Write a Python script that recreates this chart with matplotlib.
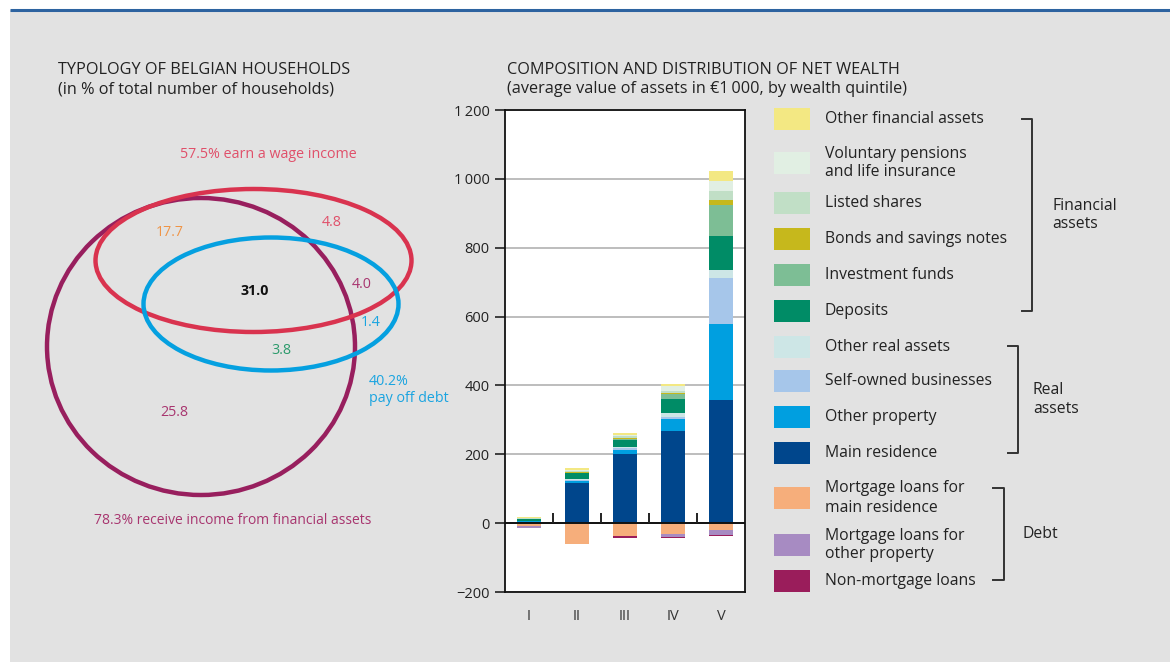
import matplotlib.pyplot as plt
from matplotlib.patches import Ellipse, Rectangle
from matplotlib.ticker import FuncFormatter

plt.rcParams['font.family'] = ['Open Sans', 'DejaVu Sans']

# wealth quintiles
quintiles = ['I', 'II', 'III', 'IV', 'V']

# assets, stacked bottom to top (EUR thousand)
main_residence = [4, 116, 200, 267, 358]
other_property = [1, 5, 13, 35, 220]
self_owned = [1, 5, 4, 7, 133]
other_real = [1, 3, 4, 11, 23]
deposits = [5, 16, 20, 41, 101]
investment_funds = [1, 2, 4, 15, 90]
bonds = [0, 1, 3, 2, 13]
listed_shares = [1, 4, 4, 5, 28]
voluntary_pensions = [1, 3, 5, 14, 27]
other_financial = [2, 4, 5, 7, 31]

# debt, stacked downwards
mortgage_main = [-8, -60, -37, -31, -19]
mortgage_other = [-6, -1, 0, -9, -14]
non_mortgage = [-1, 0, -6, -3, -4]

asset_series = [
    ('Main residence', main_residence, '#00468c'),
    ('Other property', other_property, '#009fe0'),
    ('Self-owned businesses', self_owned, '#a6c6ea'),
    ('Other real assets', other_real, '#cde6e6'),
    ('Deposits', deposits, '#008c66'),
    ('Investment funds', investment_funds, '#7dbe95'),
    ('Bonds and savings notes', bonds, '#c6b81c'),
    ('Listed shares', listed_shares, '#c1dfc6'),
    ('Voluntary pensions\nand life insurance', voluntary_pensions, '#e1efe3'),
    ('Other financial assets', other_financial, '#f3e883'),
]
debt_series = [
    ('Mortgage loans for\nmain residence', mortgage_main, '#f6ae7b'),
    ('Mortgage loans for\nother property', mortgage_other, '#a78bc2'),
    ('Non-mortgage loans', non_mortgage, '#9a1d5b'),
]

# household typology (% of households)
venn_values = ['17.7', '4.8', '31.0', '4.0', '1.4', '3.8', '25.8']
wage_label = '57.5% earn a wage income'
debt_label = '40.2%\npay off debt'
fin_label = '78.3% receive income from financial assets'

W, H = 1170, 662
fig = plt.figure(figsize=(W / 100, H / 100), dpi=100)
fig.patch.set_facecolor('white')

bg = fig.add_axes([0, 0, 1, 1])
bg.set_xlim(0, W)
bg.set_ylim(H, 0)
bg.axis('off')
bg.add_patch(Rectangle((10, 10), W - 10, H - 10, facecolor='#e2e2e2', edgecolor='none'))
bg.plot([10, W], [9.5, 9.5], color='#2d63a0', lw=2.2, solid_capstyle='butt')

title_kw = dict(fontsize=11.7, va='center', color='#222222')

# --- left panel: overlapping ellipses
bg.text(58, 70, 'TYPOLOGY OF BELGIAN HOUSEHOLDS', **title_kw)
bg.text(58, 90, '(in % of total number of households)', **title_kw)

purple, red, blue = '#981f5e', '#d9334f', '#05a0e0'
bg.add_patch(Ellipse((201, 346.5), 308, 297, fill=False, ec=purple, lw=3.2))
bg.add_patch(Ellipse((253.5, 260.5), 316, 143, fill=False, ec=red, lw=3.2))
bg.add_patch(Ellipse((271, 304), 255, 133, fill=False, ec=blue, lw=3.2))

venn_pos = [(170, 232, '#ef9446'), (332, 222, '#e0506a'), (255, 291, '#111111'),
            (362, 285, '#a8356f'), (371, 322, '#1aa4e0'), (281, 351, '#2b9a6b'),
            (174, 412, '#a8356f')]
for val, (x, y, c) in zip(venn_values, venn_pos):
    bg.text(x, y, val, fontsize=10.3, ha='center', va='center', color=c,
            fontweight='bold' if val == '31.0' else 'normal')
bg.text(268, 155, wage_label, fontsize=10.3, ha='center', va='center', color='#e0506a')
bg.text(369, 390, debt_label, fontsize=10.3, ha='left', va='center', color='#1aa4e0',
        linespacing=1.2)
bg.text(233, 521, fin_label, fontsize=10, ha='center', va='center', color='#a8356f')

# --- right panel: stacked bars
bg.text(507, 70, 'COMPOSITION AND DISTRIBUTION OF NET WEALTH', **title_kw)
bg.text(507, 89, '(average value of assets in \u20ac1\u2009000, by wealth quintile)', **title_kw)

ax = fig.add_axes([505 / W, 1 - 592 / H, 240 / W, 482 / H])
ax.set_facecolor('white')
x = list(range(len(quintiles)))
width = 0.52
base = [0] * len(quintiles)
for name, vals, color in asset_series:
    ax.bar(x, vals, width, bottom=base, color=color, zorder=3)
    base = [b + v for b, v in zip(base, vals)]
base = [0] * len(quintiles)
for name, vals, color in debt_series:
    ax.bar(x, vals, width, bottom=base, color=color, zorder=3)
    base = [b + v for b, v in zip(base, vals)]

ax.set_xlim(-0.5, len(quintiles) - 0.5)
ax.set_ylim(-200, 1200)
ax.set_yticks(range(-200, 1201, 200))
ax.yaxis.set_major_formatter(FuncFormatter(
    lambda v, p: ('\u2212' if v < 0 else '') + f'{abs(int(v)):,}'.replace(',', '\u2009')))
ax.set_xticks(x)
ax.set_xticklabels(quintiles)
ax.tick_params(axis='x', length=0, pad=12, labelsize=10.5, colors='#333333')
ax.tick_params(axis='y', length=7, width=1.2, pad=4, labelsize=10.5, colors='#222222')
ax.grid(axis='y', color='#bdbdbd', lw=1.4, zorder=1)
ax.axhline(0, color='#111111', lw=1.4, zorder=4)
ax.vlines([i + 0.5 for i in x[:-1]], 0, 30, color='#222222', lw=1.4, zorder=4)
for s in ax.spines.values():
    s.set_linewidth(1.3)
    s.set_color('#111111')

# --- legend with group brackets
legend_rows = [
    ('Other financial assets', 119), ('Voluntary pensions\nand life insurance', 163),
    ('Listed shares', 203), ('Bonds and savings notes', 239), ('Investment funds', 275),
    ('Deposits', 311), ('Other real assets', 347), ('Self-owned businesses', 381),
    ('Other property', 417), ('Main residence', 453), ('Mortgage loans for\nmain residence', 498),
    ('Mortgage loans for\nother property', 545), ('Non-mortgage loans', 581),
]
colors = {name: c for name, _, c in asset_series + debt_series}
for name, y in legend_rows:
    bg.add_patch(Rectangle((774, y - 11), 36, 22, facecolor=colors[name], edgecolor='none'))
    bg.text(825, y, name, fontsize=11.3, va='center', color='#222222', linespacing=1.25)

groups = [('Financial\nassets', 119, 311, 1022, 1032, 1052),
          ('Real\nassets', 346, 453, 1008, 1018, 1033),
          ('Debt', 488, 580, 993, 1004, 1022)]
for label, y0, y1, xa, xb, xt in groups:
    bg.plot([xa, xb, xb, xa], [y0, y0, y1, y1], color='#333333', lw=1.4)
    bg.text(xt, (y0 + y1) / 2, label, fontsize=11.3, va='center', color='#222222',
            linespacing=1.25)

plt.savefig('out.png', dpi=100)
